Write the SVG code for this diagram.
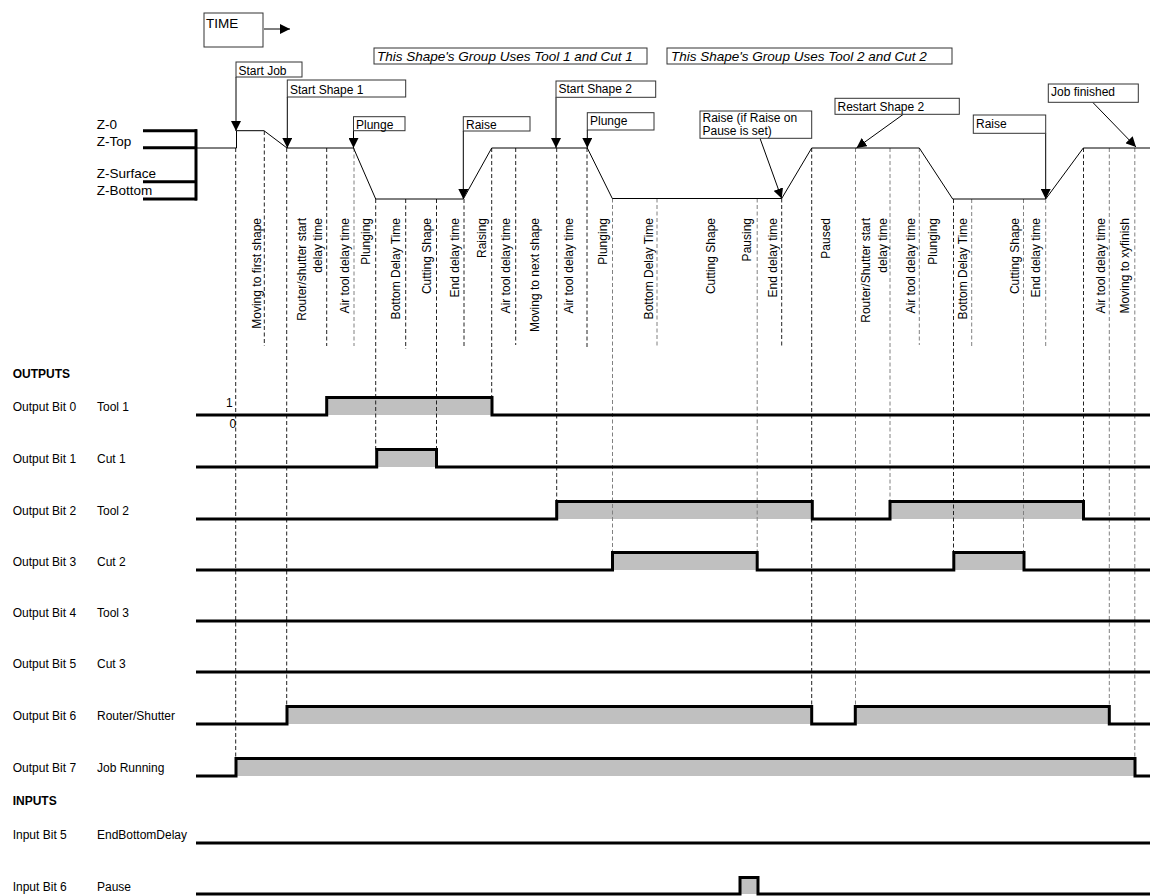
<svg xmlns="http://www.w3.org/2000/svg" width="1150" height="896" viewBox="0 0 1150 896">
<style>
text{font-family:"Liberation Sans",Arial,sans-serif;font-size:12px;fill:#000}
.z{font-size:13.5px}
.it{font-size:13.5px;font-style:italic}
.b{font-weight:bold}
.box{fill:#fff;stroke:#333;stroke-width:1}
.arr{stroke:#000;stroke-width:1;fill:none;marker-end:url(#ah)}
.dk{stroke:#222;stroke-width:1;stroke-dasharray:4,2.5;fill:none}
.gy{stroke:#808080;stroke-width:1;stroke-dasharray:4,2.5;fill:none}
.sig{stroke:#000;stroke-width:3;fill:none;stroke-linejoin:miter}
.hi{fill:#c0c0c0;stroke:none}
.prof{stroke:#000;stroke-width:1;fill:none}
.thick{stroke:#000;stroke-width:3;fill:none}
</style>
<defs>
<marker id="ah" markerUnits="userSpaceOnUse" markerWidth="10" markerHeight="10" refX="10" refY="5" orient="auto">
<path d="M0,0 L10,5 L0,10 z" fill="#000"/>
</marker>
</defs>
<rect width="1150" height="896" fill="#fff"/>

<g id="fills">
<rect class="hi" x="326.7" y="397.5" width="165.3" height="17.5"/>
<rect class="hi" x="376.7" y="449.5" width="59.8" height="17.5"/>
<rect class="hi" x="556.7" y="501.5" width="255.6" height="17.5"/>
<rect class="hi" x="890" y="501.5" width="193.5" height="17.5"/>
<rect class="hi" x="612.5" y="552.5" width="144.7" height="17.5"/>
<rect class="hi" x="953.8" y="552.5" width="70.2" height="17.5"/>
<rect class="hi" x="287" y="706.5" width="524.7" height="17.5"/>
<rect class="hi" x="855.3" y="706.5" width="254" height="17.5"/>
<rect class="hi" x="236" y="758.5" width="899" height="17.5"/>
<rect class="hi" x="740" y="877.5" width="18" height="16.5"/>
</g>

<g id="connectors">
<line class="dk" x1="235.7" y1="148" x2="235.7" y2="758.5"/>
<line class="dk" x1="264.3" y1="131" x2="264.3" y2="346"/>
<line class="dk" x1="286.7" y1="148" x2="286.7" y2="706.5"/>
<line class="dk" x1="326.7" y1="148" x2="326.7" y2="346"/>
<line class="gy" x1="354" y1="148" x2="354" y2="346"/>
<line class="dk" x1="375.7" y1="199" x2="375.7" y2="449.5"/>
<line class="dk" x1="405.7" y1="199" x2="405.7" y2="349"/>
<line class="dk" x1="436.5" y1="199" x2="436.5" y2="449.5"/>
<line class="dk" x1="464" y1="199" x2="464" y2="346"/>
<line class="dk" x1="491.7" y1="148" x2="491.7" y2="397.5"/>
<line class="dk" x1="515.7" y1="148" x2="515.7" y2="345"/>
<line class="dk" x1="556.7" y1="148" x2="556.7" y2="501.5"/>
<line class="dk" x1="587" y1="148" x2="587" y2="347"/>
<line class="gy" x1="612.5" y1="198.5" x2="612.5" y2="552.5"/>
<line class="gy" x1="657" y1="198.5" x2="657" y2="348"/>
<line class="gy" x1="757.2" y1="198.5" x2="757.2" y2="552.5"/>
<line class="dk" x1="781.7" y1="198.5" x2="781.7" y2="346"/>
<line class="dk" x1="811.7" y1="148" x2="811.7" y2="706.5"/>
<line class="gy" x1="855.5" y1="148" x2="855.5" y2="706.5"/>
<line class="gy" x1="890" y1="148" x2="890" y2="501.5"/>
<line class="gy" x1="919.3" y1="148" x2="919.3" y2="345"/>
<line class="dk" x1="953.5" y1="199" x2="953.5" y2="552.5"/>
<line class="gy" x1="971.7" y1="199" x2="971.7" y2="348"/>
<line class="gy" x1="1023.5" y1="199" x2="1023.5" y2="552.5"/>
<line class="gy" x1="1045.7" y1="199" x2="1045.7" y2="346"/>
<line class="dk" x1="1083.5" y1="148" x2="1083.5" y2="501.5"/>
<line class="gy" x1="1109.3" y1="148" x2="1109.3" y2="706.5"/>
<line class="gy" x1="1134.8" y1="148" x2="1134.8" y2="758.5"/>
<line class="arr" x1="264" y1="29" x2="290" y2="29"/>
<line class="arr" x1="236" y1="77" x2="236" y2="131"/>
<line class="arr" x1="287.3" y1="97" x2="287.3" y2="148"/>
<line class="arr" x1="353.5" y1="130.7" x2="353.5" y2="148"/>
<line class="arr" x1="463.3" y1="131" x2="463.3" y2="199"/>
<line class="arr" x1="556" y1="97.3" x2="556" y2="148"/>
<line class="arr" x1="587.3" y1="130" x2="587.3" y2="148"/>
<line class="arr" x1="760" y1="138.3" x2="781.7" y2="198.5"/>
<line class="arr" x1="903.3" y1="114.3" x2="856.5" y2="148"/>
<line class="arr" x1="1045.7" y1="133.3" x2="1045.7" y2="199"/>
<line class="arr" x1="1092.7" y1="102.3" x2="1136" y2="147"/>
</g>

<g id="z-axis">
<line class="thick" x1="143" y1="130.7" x2="197" y2="130.7"/>
<line class="thick" x1="143" y1="147.7" x2="197" y2="147.7"/>
<line class="thick" x1="143" y1="181.7" x2="197" y2="181.7"/>
<line class="thick" x1="143" y1="199" x2="197" y2="199"/>
<line class="thick" x1="196" y1="129.2" x2="196" y2="200.5"/>
<text class="z" x="96.7" y="128.5">Z-0</text>
<text class="z" x="96.7" y="145.5">Z-Top</text>
<text class="z" x="96.7" y="177.8">Z-Surface</text>
<text class="z" x="96.7" y="195.2">Z-Bottom</text>
</g>

<g id="z-profile">
<path class="prof" d="M196.7,148 L236.5,148 L236.5,130.7 L264,130.7 L287,148 L353.5,148 L375.7,199 L463.3,199 L491.7,148 L587.3,148 L612.3,198.5 L781.7,198.5 L811.7,148 L919.3,148 L952.7,199 L1045.7,199 L1083.3,148 L1150,148"/>
</g>

<g id="time">
<rect class="box" x="204" y="13" width="59" height="34"/>
<text class="z" x="206" y="27.5">TIME</text>
</g>

<g id="group1-note">
<rect class="box" x="374" y="48" width="273" height="16"/>
<text class="it" x="377" y="61">This Shape's Group Uses Tool 1 and Cut 1</text>
</g>
<g id="group2-note">
<rect class="box" x="667" y="48" width="285" height="16"/>
<text class="it" x="671" y="61">This Shape's Group Uses Tool 2 and Cut 2</text>
</g>

<g id="start-job">
<rect class="box" x="236" y="62" width="66" height="15"/>
<text x="238.5" y="74.5">Start Job</text>
</g>
<g id="start-shape-1">
<rect class="box" x="287.3" y="80" width="118.4" height="17"/>
<text x="290" y="93.5">Start Shape 1</text>
</g>
<g id="plunge-1">
<rect class="box" x="353.5" y="116.7" width="51.5" height="14"/>
<text x="356" y="129">Plunge</text>
</g>
<g id="raise-1">
<rect class="box" x="463.3" y="116.7" width="66.7" height="14.3"/>
<text x="466" y="129">Raise</text>
</g>
<g id="start-shape-2">
<rect class="box" x="556" y="81" width="99.7" height="16.3"/>
<text x="558.5" y="93.3">Start Shape 2</text>
</g>
<g id="plunge-2">
<rect class="box" x="587.3" y="112.7" width="66.7" height="17.3"/>
<text x="590" y="124.5">Plunge</text>
</g>
<g id="raise-pause">
<rect class="box" x="700" y="111" width="111.7" height="27.3"/>
<text x="702.5" y="122">Raise (if Raise on</text>
<text x="702.5" y="135">Pause is set)</text>
</g>
<g id="restart-shape-2">
<rect class="box" x="835" y="98.3" width="124.3" height="16"/>
<text x="837.5" y="111">Restart Shape 2</text>
</g>
<g id="raise-3">
<rect class="box" x="973.3" y="115" width="72.4" height="18.3"/>
<text x="976" y="127.6">Raise</text>
</g>
<g id="job-finished">
<rect class="box" x="1048.3" y="84" width="90" height="18.3"/>
<text x="1051" y="96">Job finished</text>
</g>

<g id="phase-labels">
<text transform="translate(260.5,218) rotate(-90)" text-anchor="end">Moving to first shape</text>
<text transform="translate(305.5,218) rotate(-90)" text-anchor="end">Router/shutter start</text>
<text transform="translate(322,218) rotate(-90)" text-anchor="end">delay time</text>
<text transform="translate(349.3,218) rotate(-90)" text-anchor="end">Air tool delay time</text>
<text transform="translate(370.3,218) rotate(-90)" text-anchor="end">Plunging</text>
<text transform="translate(400.3,218) rotate(-90)" text-anchor="end">Bottom Delay Time</text>
<text transform="translate(431.3,218) rotate(-90)" text-anchor="end">Cutting Shape</text>
<text transform="translate(458.6,218) rotate(-90)" text-anchor="end">End delay time</text>
<text transform="translate(486,218) rotate(-90)" text-anchor="end">Raising</text>
<text transform="translate(510.3,218) rotate(-90)" text-anchor="end">Air tool delay time</text>
<text transform="translate(539.3,218) rotate(-90)" text-anchor="end">Moving to next shape</text>
<text transform="translate(572.6,218) rotate(-90)" text-anchor="end">Air tool delay time</text>
<text transform="translate(607,218) rotate(-90)" text-anchor="end">Plunging</text>
<text transform="translate(652.6,218) rotate(-90)" text-anchor="end">Bottom Delay Time</text>
<text transform="translate(715.3,218) rotate(-90)" text-anchor="end">Cutting Shape</text>
<text transform="translate(751.3,218) rotate(-90)" text-anchor="end">Pausing</text>
<text transform="translate(777,218) rotate(-90)" text-anchor="end">End delay time</text>
<text transform="translate(830.3,218) rotate(-90)" text-anchor="end">Paused</text>
<text transform="translate(870.3,218) rotate(-90)" text-anchor="end">Router/Shutter start</text>
<text transform="translate(886.8,218) rotate(-90)" text-anchor="end">delay time</text>
<text transform="translate(914.6,218) rotate(-90)" text-anchor="end">Air tool delay time</text>
<text transform="translate(937,218) rotate(-90)" text-anchor="end">Plunging</text>
<text transform="translate(967,218) rotate(-90)" text-anchor="end">Bottom Delay Time</text>
<text transform="translate(1018.6,218) rotate(-90)" text-anchor="end">Cutting Shape</text>
<text transform="translate(1040.3,218) rotate(-90)" text-anchor="end">End delay time</text>
<text transform="translate(1105.3,218) rotate(-90)" text-anchor="end">Air tool delay time</text>
<text transform="translate(1129.3,218) rotate(-90)" text-anchor="end">Moving to xyfinish</text>
</g>

<g id="headers">
<text class="b" x="12.7" y="377.5">OUTPUTS</text>
<text class="b" x="12.7" y="805">INPUTS</text>
</g>

<g id="out-bit-0">
<text x="12.7" y="411">Output Bit 0</text>
<text x="97" y="411">Tool 1</text>
<text x="226" y="407.3">1</text>
<text x="229.5" y="427.6">0</text>
<path class="sig" d="M196,415 H326.7 V397.5 H492 V415 H1150"/>
</g>
<g id="out-bit-1">
<text x="12.7" y="463">Output Bit 1</text>
<text x="97" y="463">Cut 1</text>
<path class="sig" d="M196,467 H376.7 V449.5 H436.5 V467 H1150"/>
</g>
<g id="out-bit-2">
<text x="12.7" y="515">Output Bit 2</text>
<text x="97" y="515">Tool 2</text>
<path class="sig" d="M196,519 H556.7 V501.5 H812.3 V519 H890 V501.5 H1083.5 V519 H1150"/>
</g>
<g id="out-bit-3">
<text x="12.7" y="566">Output Bit 3</text>
<text x="97" y="566">Cut 2</text>
<path class="sig" d="M196,570 H612.5 V552.5 H757.2 V570 H953.8 V552.5 H1024 V570 H1150"/>
</g>
<g id="out-bit-4">
<text x="12.7" y="617">Output Bit 4</text>
<text x="97" y="617">Tool 3</text>
<path class="sig" d="M196,621 H1150"/>
</g>
<g id="out-bit-5">
<text x="12.7" y="668">Output Bit 5</text>
<text x="97" y="668">Cut 3</text>
<path class="sig" d="M196,672 H1150"/>
</g>
<g id="out-bit-6">
<text x="12.7" y="720">Output Bit 6</text>
<text x="97" y="720">Router/Shutter</text>
<path class="sig" d="M196,724 H287 V706.5 H811.7 V724 H855.3 V706.5 H1109.3 V724 H1150"/>
</g>
<g id="out-bit-7">
<text x="12.7" y="772">Output Bit 7</text>
<text x="97" y="772">Job Running</text>
<path class="sig" d="M196,776 H236 V758.5 H1135 V776 H1150"/>
</g>
<g id="in-bit-5">
<text x="12.7" y="839.3">Input Bit 5</text>
<text x="97" y="839.3">EndBottomDelay</text>
<path class="sig" d="M196,843 H1150"/>
</g>
<g id="in-bit-6">
<text x="12.7" y="890.7">Input Bit 6</text>
<text x="97" y="890.7">Pause</text>
<path class="sig" d="M196,894 H740 V877.5 H758 V894 H1150"/>
</g>
</svg>
